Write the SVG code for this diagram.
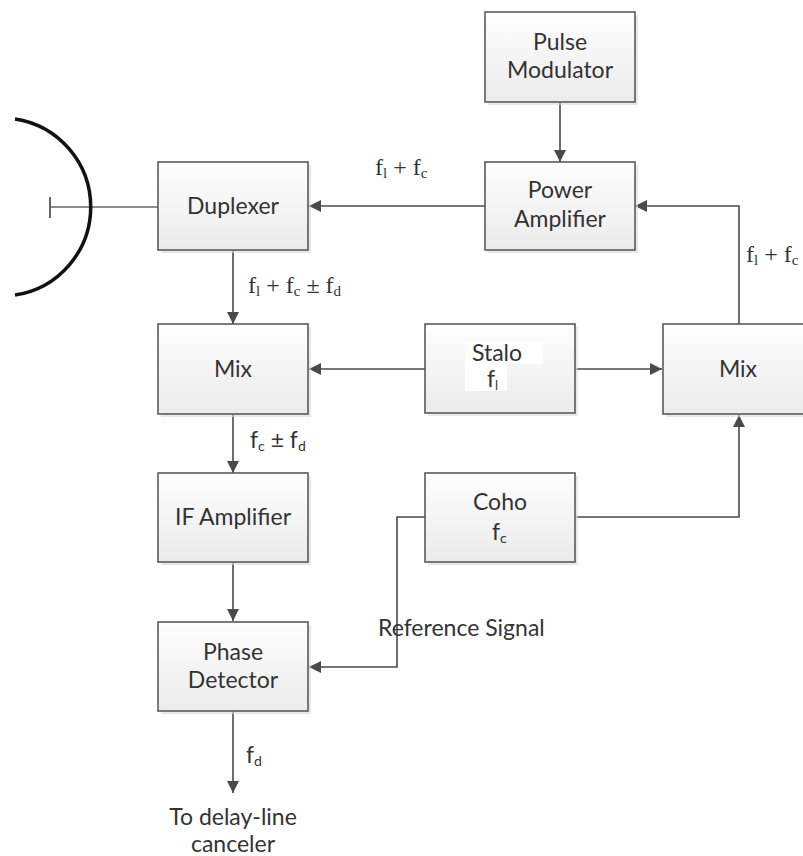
<svg xmlns="http://www.w3.org/2000/svg" width="803" height="856" viewBox="0 0 803 856">
<style>
.box{fill:url(#g);stroke:#5a5a5a;stroke-width:1.6}
.sh{fill:#d9d9d9;opacity:0.6}
.t{font-family:Lato,"Noto Sans",sans-serif;font-size:23px;fill:#333;text-anchor:middle}
.ts{font-family:Lato,"Noto Sans",sans-serif;font-size:23px;fill:#333}
.s{font-family:"Liberation Serif","Times New Roman",serif;font-size:24px;fill:#333}
.c{fill:none;stroke:#4a4a4a;stroke-width:1.6}
</style>
<defs>
<linearGradient id="g" x1="0" y1="0" x2="0" y2="1">
<stop offset="0" stop-color="#fefefe"/>
<stop offset="1" stop-color="#ebebeb"/>
</linearGradient>
<marker id="a" markerUnits="userSpaceOnUse" markerWidth="14" markerHeight="14" refX="12" refY="6" orient="auto">
<path d="M0,0 L12,6 L0,12 z" fill="#4a4a4a"/>
</marker>
</defs>
<rect width="803" height="856" fill="#fff"/>

<g id="antenna">
<line x1="50" y1="207" x2="158" y2="207" stroke="#666" stroke-width="1.6"/>
<line x1="50" y1="197" x2="50" y2="218" stroke="#666" stroke-width="2"/>
<path d="M15,119 A89,89 0 0 1 15,295" fill="none" stroke="#111" stroke-width="3.5"/>
</g>

<g id="connectors">
<line class="c" x1="560" y1="102" x2="560" y2="162" marker-end="url(#a)"/>
<line class="c" x1="486" y1="206" x2="309" y2="206" marker-end="url(#a)"/>
<line class="c" x1="233" y1="250" x2="233" y2="324" marker-end="url(#a)"/>
<line class="c" x1="425" y1="369" x2="309" y2="369" marker-end="url(#a)"/>
<line class="c" x1="576" y1="369" x2="662" y2="369" marker-end="url(#a)"/>
<polyline class="c" points="739,324 739,206 635,206" marker-end="url(#a)"/>
<polyline class="c" points="576,517 739,517 739,415" marker-end="url(#a)"/>
<line class="c" x1="233" y1="414" x2="233" y2="473" marker-end="url(#a)"/>
<line class="c" x1="233" y1="562" x2="233" y2="621" marker-end="url(#a)"/>
<polyline class="c" points="425,517 397,517 397,667 309,667" marker-end="url(#a)"/>
<line class="c" x1="233" y1="711" x2="233" y2="793" marker-end="url(#a)"/>
</g>

<g id="pulse-modulator">
<rect class="sh" x="488" y="15" width="150" height="90"/>
<rect class="box" x="485" y="12" width="150" height="90"/>
<text class="t" x="560" y="50">Pulse</text>
<text class="t" x="560" y="78">Modulator</text>
</g>

<g id="power-amplifier">
<rect class="sh" x="488" y="165" width="150" height="88"/>
<rect class="box" x="485" y="162" width="150" height="88"/>
<text class="t" x="560" y="198">Power</text>
<text class="t" x="560" y="227">Amplifier</text>
</g>

<g id="duplexer">
<rect class="sh" x="161" y="165" width="150" height="88"/>
<rect class="box" x="158" y="162" width="150" height="88"/>
<text class="t" x="233" y="214">Duplexer</text>
</g>

<g id="mix-left">
<rect class="sh" x="161" y="327" width="150" height="90"/>
<rect class="box" x="158" y="324" width="150" height="90"/>
<text class="t" x="233" y="377">Mix</text>
</g>

<g id="stalo">
<rect class="sh" x="428" y="327" width="150" height="89"/>
<rect class="box" x="425" y="324" width="150" height="89"/>
<path d="M465,341 H543 V364 H507 V391 H465 Z" fill="#fff"/>
<text class="t" x="497" y="361">Stalo</text>
<text class="ts" x="487" y="387">f<tspan font-size="13" dy="3">l</tspan></text>
</g>

<g id="mix-right">
<rect class="sh" x="666" y="327" width="150" height="90"/>
<rect class="box" x="663" y="324" width="150" height="90"/>
<text class="t" x="738" y="377">Mix</text>
</g>

<g id="if-amplifier">
<rect class="sh" x="161" y="476" width="150" height="89"/>
<rect class="box" x="158" y="473" width="150" height="89"/>
<text class="t" x="233" y="525">IF Amplifier</text>
</g>

<g id="coho">
<rect class="sh" x="428" y="476" width="150" height="89"/>
<rect class="box" x="425" y="473" width="150" height="89"/>
<text class="t" x="500" y="510">Coho</text>
<text class="ts" x="492" y="540">f<tspan font-size="14" dy="3">c</tspan></text>
</g>

<g id="phase-detector">
<rect class="sh" x="161" y="625" width="150" height="89"/>
<rect class="box" x="158" y="622" width="150" height="89"/>
<text class="t" x="233" y="660">Phase</text>
<text class="t" x="233" y="688">Detector</text>
</g>

<g id="labels">
<text class="s" x="375" y="175">f<tspan font-size="15" dy="3">l</tspan><tspan dy="-3"> + f</tspan><tspan font-size="15" dy="3">c</tspan></text>
<text class="s" x="746" y="262">f<tspan font-size="15" dy="3">l</tspan><tspan dy="-3"> + f</tspan><tspan font-size="15" dy="3">c</tspan></text>
<text class="s" x="248" y="293">f<tspan font-size="15" dy="3">l</tspan><tspan dy="-3"> + f</tspan><tspan font-size="15" dy="3">c</tspan><tspan dy="-3">  ± f</tspan><tspan font-size="15" dy="3">d</tspan></text>
<text class="ts" x="250" y="448">f<tspan font-size="14" dy="3">c</tspan><tspan dy="-3">  ± f</tspan><tspan font-size="14" dy="3">d</tspan></text>
<text class="ts" x="378" y="636">Reference Signal</text>
<text class="ts" x="246" y="763">f<tspan font-size="14" dy="3">d</tspan></text>
<text class="t" x="233" y="825">To delay-line</text>
<text class="t" x="233" y="852">canceler</text>
</g>
</svg>
